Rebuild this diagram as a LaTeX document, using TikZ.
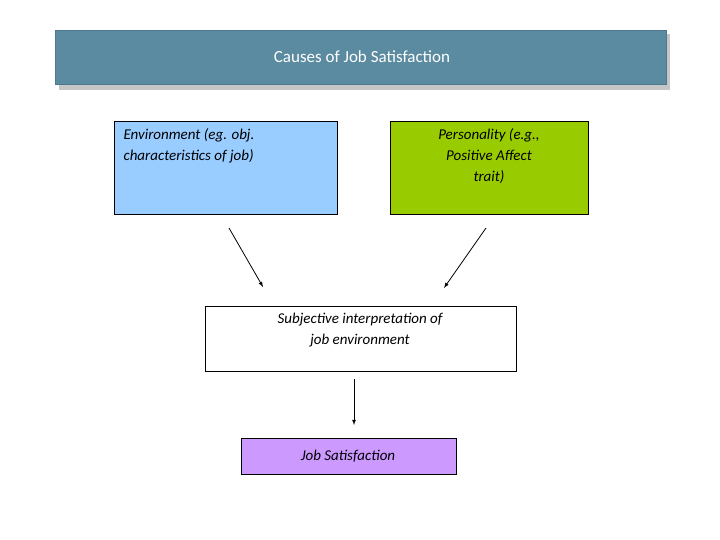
\documentclass[tikz,border=0pt]{standalone}
\usepackage{fontspec}
\setmainfont{Carlito}
\begin{document}
\begin{tikzpicture}[x=1pt,y=-1pt,
 box/.style={draw=black,line width=0.6pt,inner sep=0pt},
 lbl/.style={font=\itshape\fontsize{15}{21}\selectfont,align=center},
 arr/.style={-latex,line width=0.8pt}]
\useasboundingbox (0,0) rectangle (720,540);
\fill[gray!45] (59,34) rectangle (670,90);
\node[fill={rgb,255:red,91;green,139;blue,160},draw={rgb,255:red,80;green,120;blue,140},minimum width=611pt,minimum height=54pt,anchor=north west,inner sep=0pt] (title) at (55,30) {};
\node[text=white,font=\fontsize{17}{20}\selectfont] at (362,57) {Causes of Job Satisfaction};
\node[box,fill={rgb,255:red,153;green,204;blue,255},minimum width=223pt,minimum height=93pt,anchor=north west] (env) at (114,121) {};
\node[lbl,align=left,anchor=north west] at (120,125) {Environment (eg. obj.\\characteristics of job)};
\node[box,fill={rgb,255:red,153;green,204;blue,0},minimum width=198pt,minimum height=93pt,anchor=north west] (pers) at (390,121) {};
\node[lbl,anchor=north] at (489,125) {Personality (e.g.,\\Positive Affect\\trait)};
\node[box,fill=white,minimum width=311pt,minimum height=65pt,anchor=north west] (subj) at (205,306) {};
\node[lbl,anchor=north] at (360,310) {Subjective interpretation of\\job environment};
\node[box,fill={rgb,255:red,204;green,153;blue,255},minimum width=215pt,minimum height=36pt,anchor=north west] (js) at (241,438) {};
\node[lbl] at (348,456) {Job Satisfaction};
\coordinate (a1) at (229,228); \coordinate (a2) at (263,287);
\coordinate (b1) at (486,228); \coordinate (b2) at (444,288);
\coordinate (c1) at (354,379); \coordinate (c2) at (354,425);
\draw[arr] (a1) -- (a2);
\draw[arr] (b1) -- (b2);
\draw[arr] (c1) -- (c2);
\end{tikzpicture}
\end{document}
